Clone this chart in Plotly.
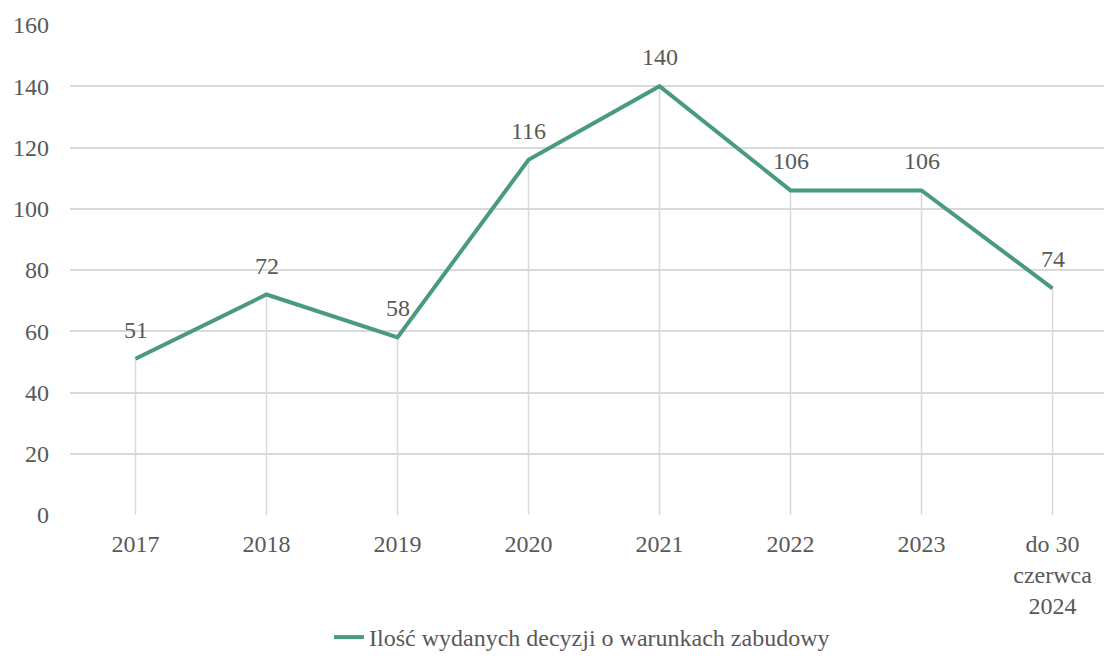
import plotly.graph_objects as go

categories = ["2017", "2018", "2019", "2020", "2021", "2022", "2023", "do 30<br>czerwca<br>2024"]
values = [51, 72, 58, 116, 140, 106, 106, 74]
series_name = "Ilość wydanych decyzji o warunkach zabudowy"
y_ticks = [0, 20, 40, 60, 80, 100, 120, 140, 160]

LINE_COLOR = "#4a9a7c"
GRID_COLOR = "#d9d9d9"
TEXT_COLOR = "#595959"
FONT = "Liberation Serif"
FONT_SIZE = 24

idx = list(range(len(categories)))

# vertical drop lines from each point down to the axis
drop_x, drop_y = [], []
for i, v in zip(idx, values):
    drop_x += [i, i, None]
    drop_y += [0, v, None]

fig = go.Figure()
fig.add_trace(go.Scatter(
    x=drop_x, y=drop_y, mode="lines",
    line=dict(color=GRID_COLOR, width=1.5),
    hoverinfo="skip", showlegend=False,
))
fig.add_trace(go.Scatter(
    x=idx, y=values, mode="lines", name=series_name,
    line=dict(color=LINE_COLOR, width=4),
))

for i, v in zip(idx, values):
    fig.add_annotation(
        x=i, y=v, text=str(v), showarrow=False,
        yanchor="bottom", yshift=14,
        font=dict(family=FONT, size=FONT_SIZE, color=TEXT_COLOR),
    )

fig.update_layout(
    width=1104, height=660,
    margin=dict(l=70, r=0, t=25, b=145, autoexpand=False),
    paper_bgcolor="white", plot_bgcolor="white",
    font=dict(family=FONT, size=FONT_SIZE, color=TEXT_COLOR),
    showlegend=True,
    legend=dict(
        orientation="h", xref="container", yref="container",
        x=0.298, xanchor="left", y=0.0, yanchor="bottom",
        font=dict(family=FONT, size=FONT_SIZE, color=TEXT_COLOR),
    ),
    xaxis=dict(
        tickmode="array", tickvals=idx, ticktext=categories,
        range=[-0.5, 7.393], showgrid=False, zeroline=False,
        showline=False, ticks="", ticklabelstandoff=12, automargin=False,
    ),
    yaxis=dict(
        range=[0, 160], tickvals=y_ticks,
        showgrid=True, gridcolor=GRID_COLOR, gridwidth=1.5,
        zeroline=False, showline=False, ticks="",
        ticklabelstandoff=20, automargin=False,
    ),
)

fig.write_html("out.html")
